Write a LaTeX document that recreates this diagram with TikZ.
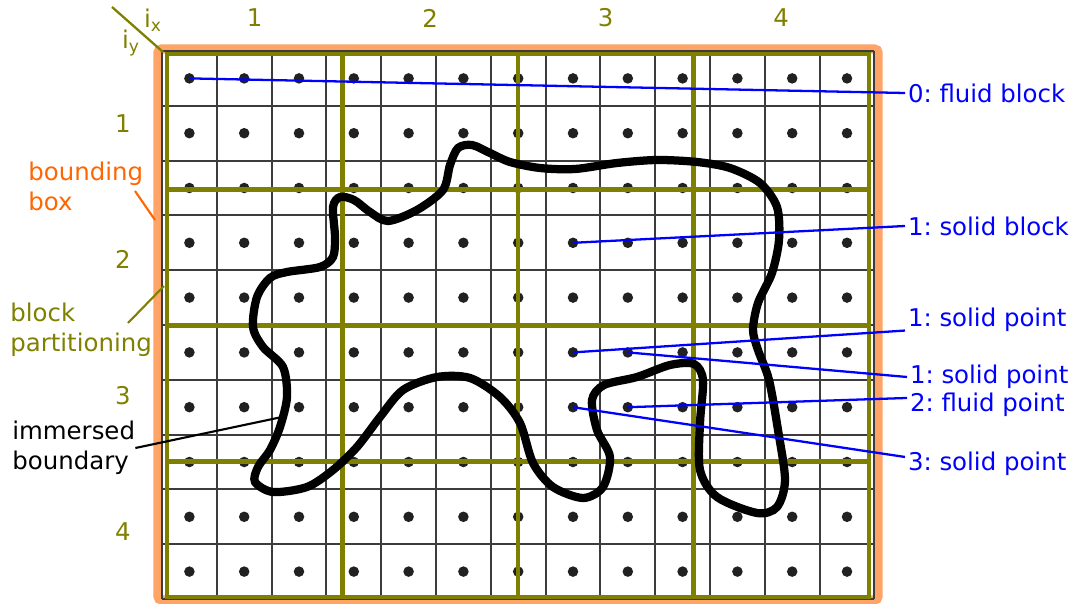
\documentclass[tikz,border=0pt]{standalone}
\usepackage{fontspec}
\setmainfont{DejaVu Sans}
\usetikzlibrary{calc}
\definecolor{olivegrid}{HTML}{808000}
\definecolor{bboxorange}{HTML}{FFA366}
\definecolor{bboxtext}{HTML}{FF6600}
\definecolor{finegrid}{HTML}{3C3C3C}
\definecolor{pointblue}{HTML}{0000FF}
\frenchspacing

\begin{document}
\begin{tikzpicture}[
    x=0.02cm, y=-0.02cm,
    every node/.style={font=\fontsize{13.9}{17}\selectfont},
    gridpt/.style={circle, fill=black!87, inner sep=0pt, minimum size=6pt},
    blockidx/.style={text=olivegrid, inner sep=0pt},
    tagtext/.style={text=pointblue, anchor=west, inner sep=1.5pt},
    tagline/.style={pointblue, line width=1.3pt},
    sidetext/.style={align=left, anchor=west, inner sep=0pt},
    blockline/.style={olivegrid, line width=2.8pt},
]
\useasboundingbox (0,0) rectangle (1074,604);

% Bounding box
\draw[bboxorange, line width=5.2pt, rounded corners=2pt] (158,49) rectangle (878,600);

% Fine grid
\foreach \k in {0,...,13}
    \draw[finegrid, line width=1.1pt] ({162+54.8*\k},51) -- ({162+54.8*\k},599);
\foreach \k in {0,...,10}
    \draw[finegrid, line width=1.1pt] (162,{51+54.8*\k}) -- (874,{51+54.8*\k});

% Grid points
\foreach \i in {1,...,13}
    \foreach \j in {1,...,10}
        \node[gridpt] (p-\i-\j) at ({162+54.8*(\i-0.5)},{51+54.8*(\j-0.5)}) {};

% Block partitioning
\draw[blockline] (167,54) rectangle (869,597);
\foreach \k in {1,2,3} {
    \draw[blockline] ({167+175.5*\k},54) -- ({167+175.5*\k},597);
    \draw[blockline] (167,{54+135.75*\k}) -- (869,{54+135.75*\k});
}

% Block indices
\foreach \k in {1,...,4} {
    \node[blockidx] (col-\k) at ({167+175.5*(\k-0.5)},18) {\k};
    \node[blockidx] (row-\k) at (123,{56+135.75*(\k-0.5)}) {\k};
}
\node[blockidx] (ix) at (153,20) {i\textsubscript{x}};
\node[blockidx] (iy) at (131,43) {i\textsubscript{y}};
\coordinate (diagtop) at (112,7);
\coordinate (diagend) at (163,52);
\draw[olivegrid, line width=1.3pt] (diagtop) -- (diagend);

% Immersed boundary
\draw[line width=4.7pt] plot[smooth cycle] coordinates {
    (340,197) (354,200) (370,212) (388,221) (417,210) (443,190) (450,165)
    (458,148) (472,145) (490,153) (510,162) (540,168) (575,169) (617,163)
    (657,160) (697,162) (730,168) (760,183) (777,207) (779,240) (772,273)
    (758,303) (753,330) (758,350) (769,380) (778,430) (785,480) (777,507)
    (757,513) (717,497) (700,470) (700,423) (703,380) (694,364) (670,365)
    (637,377) (604,385) (592,400) (597,430) (610,457) (603,487) (583,498)
    (553,487) (533,463) (520,423) (500,397) (470,378) (437,377) (403,390)
    (380,417) (357,447) (333,470) (307,487) (273,492) (255,482) (258,467)
    (270,450) (280,427) (287,397) (283,367) (263,347) (253,327) (257,297)
    (270,278) (287,272) (320,267) (333,257) (335,237) (333,207)
};

% Left labels
\node[sidetext, text=bboxtext] (bboxlbl) at (28,186) {bounding\\box};
\coordinate (bboxfrom) at (135,191);
\coordinate (bboxto) at (155,220);
\draw[bboxtext, line width=1.2pt] (bboxfrom) -- (bboxto);

\node[sidetext, text=olivegrid] (partlbl) at (10,330) {block\\partitioning};
\coordinate (partfrom) at (128,323);
\coordinate (partto) at (164,286);
\draw[olivegrid, line width=1.2pt] (partfrom) -- (partto);

\node[sidetext] (imblbl) at (12,448) {immersed\\boundary};
\coordinate (imbto) at (282,417);
\draw[line width=1.2pt] (imblbl.east) -- (imbto);

% Right labels
\node[tagtext] (fluidblk) at (905,93) {0: fluid block};
\node[tagtext] (solidblk) at (905,226) {1: solid block};
\node[tagtext] (solidpt1) at (905,320) {1: solid point};
\node[tagtext] (solidpt2) at (907,377) {1: solid point};
\node[tagtext] (fluidpt) at (907,405) {2: fluid point};
\node[tagtext] (solidpt3) at (905,464) {3: solid point};

\draw[tagline] (p-1-1.center) -- (fluidblk.west);
\draw[tagline] (p-8-4.center) -- (solidblk.west);
\draw[tagline] (p-8-6.center) -- ([yshift=-6pt]solidpt1.west);
\draw[tagline] (p-9-6.center) -- (solidpt2.west);
\draw[tagline] (p-9-7.center) -- ([yshift=4pt]fluidpt.west);
\draw[tagline] (p-8-7.center) -- ([yshift=4pt]solidpt3.west);

\end{tikzpicture}
\end{document}
